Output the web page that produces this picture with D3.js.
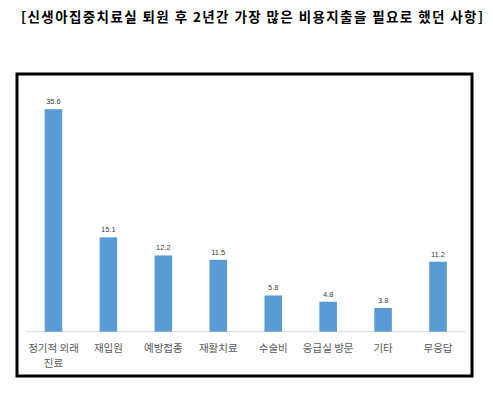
<!DOCTYPE html>
<html><head><meta charset="utf-8">
<script src="https://cdn.jsdelivr.net/npm/d3@7"></script>
<style>body{margin:0;background:#fff;}svg{display:block;}</style>
</head><body>
<script>
const title = "[신생아집중치료실 퇴원 후 2년간 가장 많은 비용지출을 필요로 했던 사항]";
const categories = ["정기적 외래\n진료", "재입원", "예방접종", "재활치료", "수술비", "응급실 방문", "기타", "무응답"];
const values = [35.6, 15.1, 12.2, 11.5, 5.8, 4.8, 3.8, 11.2];

const W = 493, H = 394;
const svg = d3.select("body").append("svg").attr("width", W).attr("height", H);
svg.append("rect").attr("width", W).attr("height", H).attr("fill", "#fff");

svg.append("text").attr("x", 252).attr("y", 22).attr("text-anchor", "middle")
  .attr("font-family", "'Noto Sans CJK KR', sans-serif").attr("font-weight", "bold")
  .attr("font-size", 13.5).attr("fill", "#000").attr("textLength", 462).attr("lengthAdjust", "spacing")
  .text(title);

// frame
svg.append("rect").attr("x", 17).attr("y", 74).attr("width", 455).attr("height", 302)
  .attr("fill", "none").attr("stroke", "#000").attr("stroke-width", 3);

const x = d3.scaleBand().domain(categories).range([26, 465.5]).paddingInner(0.68).paddingOuter(0.34);
const y = d3.scaleLinear().domain([0, 40]).range([331.7, 81.7]);

svg.append("line").attr("x1", 26).attr("x2", 465.5).attr("y1", y(0)).attr("y2", y(0))
  .attr("stroke", "#d9d9d9").attr("stroke-width", 1);

svg.selectAll("rect.bar").data(values).join("rect").attr("class", "bar")
  .attr("x", (d, i) => x(categories[i])).attr("width", x.bandwidth())
  .attr("y", d => y(d)).attr("height", d => y(0) - y(d)).attr("fill", "#5B9BD5");

svg.selectAll("text.val").data(values).join("text").attr("class", "val")
  .attr("x", (d, i) => x(categories[i]) + x.bandwidth() / 2).attr("y", d => y(d) - 5)
  .attr("text-anchor", "middle").attr("font-family", "'Liberation Sans', Arial, sans-serif")
  .attr("font-size", 7.5).attr("fill", "#404040").text(d => d.toFixed(1));

const lab = svg.selectAll("text.cat").data(categories).join("text").attr("class", "cat")
  .attr("x", d => x(d) + x.bandwidth() / 2).attr("y", 352)
  .attr("text-anchor", "middle").attr("font-family", "'Noto Sans CJK KR', sans-serif")
  .attr("font-size", 10.5).attr("fill", "#595959");
lab.each(function(d) {
  const parts = d.split("\n");
  d3.select(this).selectAll("tspan").data(parts).join("tspan")
    .attr("x", x(d) + x.bandwidth() / 2).attr("dy", (p, i) => i === 0 ? 0 : 15).text(p => p);
});
</script>
</body></html>
